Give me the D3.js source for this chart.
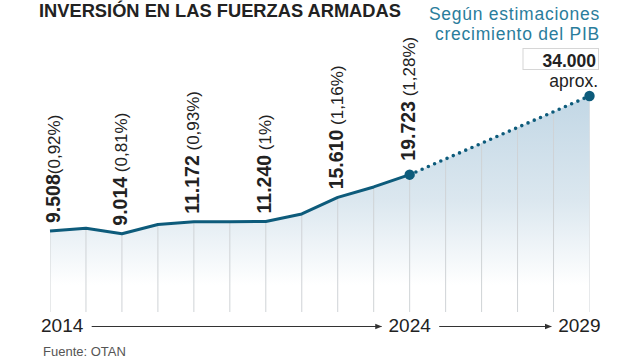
<!DOCTYPE html>
<html>
<head>
<meta charset="utf-8">
<script src="https://cdn.jsdelivr.net/npm/d3@7"></script>
<style>
  html, body { margin: 0; padding: 0; background: #fff; }
  svg { display: block; font-family: "Liberation Sans", Arial, sans-serif; }
</style>
</head>
<body>
<svg id="chart" width="640" height="360"></svg>
<script>
// ---- data ----
const years = [2014, 2015, 2016, 2017, 2018, 2019, 2020, 2021, 2022, 2023, 2024];
const spending = [9508, 10000, 9014, 10700, 11172, 11200, 11240, 12600, 15610, 17500, 19723];
const projYears = [2024, 2029];
const projValues = [19723, 34000];
const labelYears = [2014, 2016, 2018, 2020, 2022, 2024];
const labelValues = [9508, 9014, 11172, 11240, 15610, 19723];
const labelPct = ["(0,92%)", " (0,81%)", " (0,93%)", " (1%)", " (1,16%)", " (1,28%)"];
const gridYears = d3.range(2014, 2030);
const axisYears = [2014, 2024, 2029];
const title = "INVERSIÓN EN LAS FUERZAS ARMADAS";
const subtitle = ["Según estimaciones", "crecimiento del PIB"];
const projLabel = "34.000";
const projNote = "aprox.";
const source = "Fuente: OTAN";

// ---- setup ----
const svg = d3.select("#chart");
const dark = "#0d5b7b";
const teal = "#2a7d9c";
const ink = "#222";
const fmt = d3.formatLocale({ decimal: ",", thousands: ".", grouping: [3], currency: ["", "€"] }).format(",d");

const x = d3.scaleLinear().domain([2014, 2029]).range([50, 589.5]);
const y = d3.scaleLinear().domain([0, 34000]).range([283.4, 96]);
const baseY = 312;

const hist = years.map((yr, i) => ({ yr, v: spending[i] }));
const proj = projYears.map((yr, i) => ({ yr, v: projValues[i] }));
const all = hist.concat(proj.slice(1));

// gradient
const defs = svg.append("defs");
const grad = defs.append("linearGradient")
  .attr("id", "areaGrad").attr("gradientUnits", "userSpaceOnUse")
  .attr("x1", 0).attr("x2", 0).attr("y1", y(34000)).attr("y2", 285);
grad.append("stop").attr("offset", 0).attr("stop-color", "#c2d7e5");
grad.append("stop").attr("offset", 0.55).attr("stop-color", "#dbe7ef");
grad.append("stop").attr("offset", 1).attr("stop-color", "#ffffff");

const area = d3.area().x(d => x(d.yr)).y0(baseY).y1(d => y(d.v));
defs.append("clipPath").attr("id", "areaClip")
  .append("path").attr("d", area(all));

svg.append("path").attr("d", area(all)).attr("fill", "url(#areaGrad)");

// grid lines clipped to area
svg.append("g").attr("clip-path", "url(#areaClip)")
  .selectAll("line").data(gridYears).join("line")
  .attr("x1", d => x(d)).attr("x2", d => x(d))
  .attr("y1", y(34000) - 10).attr("y2", baseY)
  .attr("stroke", "#cfd3d6").attr("stroke-width", 1);

// lines
const line = d3.line().x(d => x(d.yr)).y(d => y(d.v));
svg.append("path").attr("d", line(proj))
  .attr("fill", "none").attr("stroke", dark).attr("stroke-width", 3.6)
  .attr("stroke-linecap", "round").attr("stroke-dasharray", "0 6.8");
svg.append("path").attr("d", line(hist))
  .attr("fill", "none").attr("stroke", dark).attr("stroke-width", 3)
  .attr("stroke-linejoin", "round");

// markers
svg.selectAll("circle.mk").data(proj).join("circle")
  .attr("class", "mk")
  .attr("cx", d => x(d.yr)).attr("cy", d => y(d.v)).attr("r", 5.2)
  .attr("fill", dark);

// rotated value labels
labelYears.forEach((yr, i) => {
  const px = Math.max(x(yr) + 5, 60);
  const py = y(labelValues[i]) - 8 - (projYears.includes(yr) ? 6 : 0);
  const t = svg.append("text")
    .attr("transform", `translate(${px},${py}) rotate(-90)`)
    .attr("fill", ink);
  t.append("tspan").attr("font-weight", "bold").attr("font-size", 19.5).text(fmt(labelValues[i]));
  t.append("tspan").attr("font-size", 17).text(labelPct[i]);
});

// projection annotation
svg.append("rect").attr("x", 523).attr("y", 48.5).attr("width", 75.5).attr("height", 21)
  .attr("fill", "#fff").attr("stroke", "#d6d6d6").attr("stroke-width", 1);
svg.append("text").attr("x", 596).attr("y", 66.5).attr("text-anchor", "end")
  .attr("font-size", 17.5).attr("font-weight", "bold").attr("fill", ink).text(projLabel);
svg.append("text").attr("x", 598).attr("y", 86.5).attr("text-anchor", "end")
  .attr("font-size", 17.5).attr("fill", ink).text(projNote);

// title & subtitle
svg.append("text").attr("x", 39).attr("y", 16.5)
  .attr("font-size", 18.3).attr("font-weight", "bold").attr("fill", ink).text(title);
svg.selectAll("text.sub").data(subtitle).join("text")
  .attr("class", "sub")
  .attr("x", 600).attr("y", (d, i) => 19.5 + i * 20)
  .attr("text-anchor", "end").attr("font-size", 17.5).attr("letter-spacing", 0.75)
  .attr("fill", teal).text(d => d);

// bottom axis with arrows
const axY = 332;
const arrowY = 326.5;
defs.append("marker").attr("id", "arrow")
  .attr("viewBox", "0 0 10 10").attr("refX", 9).attr("refY", 5)
  .attr("markerWidth", 7).attr("markerHeight", 7).attr("markerUnits", "userSpaceOnUse")
  .attr("orient", "auto")
  .append("path").attr("d", "M0,1 L10,5 L0,9 Z").attr("fill", "#333");

const anchors = ["start", "middle", "end"];
const offs = [-9, 0, 11];
const labs = svg.selectAll("text.ax").data(axisYears).join("text")
  .attr("class", "ax")
  .attr("x", (d, i) => x(d) + offs[i]).attr("y", axY)
  .attr("text-anchor", (d, i) => anchors[i])
  .attr("font-size", 19).attr("fill", ink).text(d => d);
const boxes = labs.nodes().map(n => n.getBBox());
for (let i = 0; i < boxes.length - 1; i++) {
  svg.append("line")
    .attr("x1", boxes[i].x + boxes[i].width + 8).attr("x2", boxes[i + 1].x - 7)
    .attr("y1", arrowY).attr("y2", arrowY)
    .attr("stroke", "#333").attr("stroke-width", 1)
    .attr("marker-end", "url(#arrow)");
}

// source
svg.append("text").attr("x", 43).attr("y", 355.5)
  .attr("font-size", 13).attr("fill", "#555").text(source);
</script>
</body>
</html>
